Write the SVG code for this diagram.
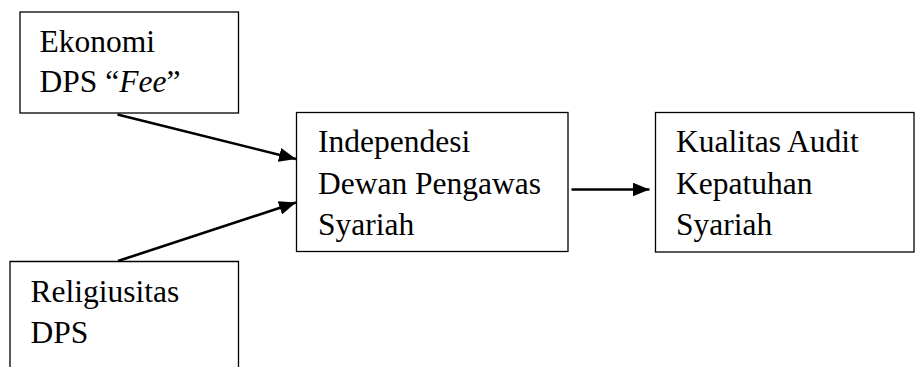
<svg xmlns="http://www.w3.org/2000/svg" width="915" height="367" viewBox="0 0 915 367">
<style>
.box{fill:#fff;stroke:#000;stroke-width:1.3}
.t{font-family:"Liberation Serif","Times New Roman",serif;font-size:31.5px;fill:#000}
.c{stroke:#000;stroke-width:2.6;fill:none}
</style>
<defs>
<marker id="ah" markerUnits="userSpaceOnUse" markerWidth="18" markerHeight="14" refX="17" refY="7" orient="auto">
<path d="M0,0 L17,7 L0,14 Z" fill="#000"/>
</marker>
</defs>
<rect width="915" height="367" fill="#fff"/>
<g id="n-ekonomi">
<rect class="box" x="20" y="12" width="218.5" height="101"/>
<text class="t" x="39.5" y="52">Ekonomi</text>
<text class="t" x="39.5" y="92">DPS “<tspan font-style="italic">Fee</tspan>”</text>
</g>
<g id="n-religiusitas">
<path class="box" d="M10,368 V261.5 H238.5 V368"/>
<text class="t" x="30.5" y="302">Religiusitas</text>
<text class="t" x="30.5" y="343">DPS</text>
</g>
<g id="n-independensi">
<rect class="box" x="296.5" y="112.5" width="271.5" height="139"/>
<text class="t" x="318" y="152">Independesi</text>
<text class="t" x="318" y="193.5">Dewan Pengawas</text>
<text class="t" x="318" y="235">Syariah</text>
</g>
<g id="n-kualitas">
<rect class="box" x="655.5" y="112.5" width="258.5" height="139.5"/>
<text class="t" x="676" y="152">Kualitas Audit</text>
<text class="t" x="676" y="193.5">Kepatuhan</text>
<text class="t" x="676" y="235">Syariah</text>
</g>
<g id="connectors">
<line class="c" x1="117.5" y1="114.5" x2="296" y2="159" marker-end="url(#ah)"/>
<line class="c" x1="118" y1="261" x2="296" y2="202.5" marker-end="url(#ah)"/>
<line class="c" x1="571.5" y1="189.5" x2="649.5" y2="189.5" marker-end="url(#ah)"/>
</g>
</svg>
